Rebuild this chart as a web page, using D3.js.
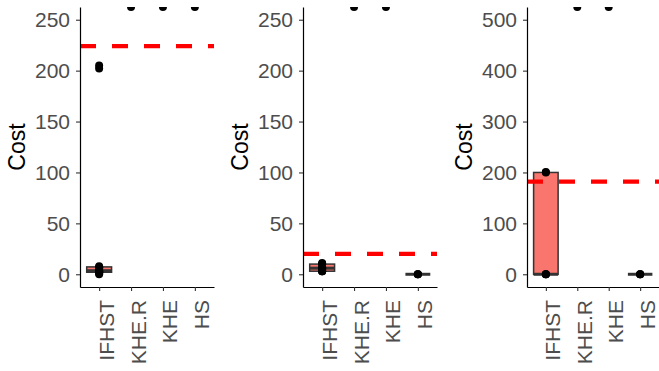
<!DOCTYPE html>
<html>
<head>
<meta charset="utf-8">
<script src="https://cdn.jsdelivr.net/npm/d3@7"></script>
<style>
  body { margin: 0; background: #fff; }
  text { font-family: "Liberation Sans", Arial, sans-serif; }
</style>
</head>
<body>
<div id="chart"></div>
<script>
// categories on the x axis
let categories = ["IFHST", "KHE.R", "KHE", "HS"];

// upper y limit of each panel and tick labels
let yLimits = [250, 250, 500];
let yTicks = [
    [0, 50, 100, 150, 200, 250],
    [0, 50, 100, 150, 200, 250],
    [0, 100, 200, 300, 400, 500]
];

// red dashed reference line per panel
let thresholds = [224, 20, 182];

// observed costs per panel, per category (Infinity = off the chart)
let costs1 = {
    IFHST: [0, 1, 2, 2, 3, 3, 4, 6, 7, 8, 202, 205],
    "KHE.R": [Infinity],
    KHE: [Infinity],
    HS: [Infinity]
};
let costs2 = {
    IFHST: [3, 3, 3, 5, 6, 7, 10, 10, 11],
    "KHE.R": [Infinity],
    KHE: [Infinity],
    HS: [0, 0, 0]
};
let costs3 = {
    IFHST: [0, 0, 0, 200, 201],
    "KHE.R": [Infinity],
    KHE: [Infinity],
    HS: [0, 0, 0]
};
let panels = [costs1, costs2, costs3];

let W = 659, H = 371;
let plotTop = 7, plotBottom = 287;
let axisX = [80, 303, 527];
let rightX = [214, 437, 659];

let svg = d3.select("#chart").append("svg")
    .attr("width", W)
    .attr("height", H);

svg.append("rect").attr("width", W).attr("height", H).attr("fill", "white");

function boxStats(vals) {
    let v = vals.filter(d => isFinite(d)).sort(d3.ascending);
    if (v.length == 0) return null;
    let q1 = d3.quantile(v, 0.25), med = d3.quantile(v, 0.5), q3 = d3.quantile(v, 0.75);
    let iqr = q3 - q1;
    let lo = d3.min(v.filter(d => d >= q1 - 1.5 * iqr));
    let hi = d3.max(v.filter(d => d <= q3 + 1.5 * iqr));
    return {q1: q1, med: med, q3: q3, lo: lo, hi: hi};
}

panels.forEach((data, p) => {
    let x0 = axisX[p], x1 = rightX[p];
    let yMax = yLimits[p];

    let x = d3.scalePoint()
        .domain(categories)
        .range([x0, x1])
        .padding(0.6);

    let y = d3.scaleLinear()
        .domain([-0.05 * yMax, 1.05 * yMax])
        .range([plotBottom, plotTop])
        .clamp(true);

    let g = svg.append("g");

    // clip to the panel so off-chart points show as half dots
    svg.append("clipPath").attr("id", "clip" + p)
        .append("rect")
        .attr("x", x0).attr("y", plotTop)
        .attr("width", x1 - x0).attr("height", plotBottom - plotTop);

    let plot = g.append("g").attr("clip-path", "url(#clip" + p + ")");

    let bw = x.step() * 0.78;

    // boxes
    categories.forEach(c => {
        let s = boxStats(data[c]);
        if (!s) return;
        let cx = x(c);
        plot.append("line")
            .attr("x1", cx).attr("x2", cx)
            .attr("y1", y(s.q3)).attr("y2", y(s.hi))
            .attr("stroke", "#333333").attr("stroke-width", 1.5);
        plot.append("line")
            .attr("x1", cx).attr("x2", cx)
            .attr("y1", y(s.q1)).attr("y2", y(s.lo))
            .attr("stroke", "#333333").attr("stroke-width", 1.5);
        plot.append("rect")
            .attr("x", cx - bw / 2)
            .attr("y", y(s.q3))
            .attr("width", bw)
            .attr("height", y(s.q1) - y(s.q3))
            .attr("fill", "#F8766D")
            .attr("stroke", "#333333")
            .attr("stroke-width", 1.5);
        plot.append("line")
            .attr("x1", cx - bw / 2).attr("x2", cx + bw / 2)
            .attr("y1", y(s.med)).attr("y2", y(s.med))
            .attr("stroke", "#333333").attr("stroke-width", 3);
    });

    // points
    categories.forEach(c => {
        plot.selectAll(null)
            .data(data[c])
            .enter()
            .append("circle")
            .attr("cx", x(c))
            .attr("cy", d => y(d))
            .attr("r", 4)
            .attr("fill", "black");
    });

    // threshold line
    plot.append("line")
        .attr("x1", x0).attr("x2", x1)
        .attr("y1", y(thresholds[p])).attr("y2", y(thresholds[p]))
        .attr("stroke", "red")
        .attr("stroke-width", 4.3)
        .attr("stroke-dasharray", "16,16");

    // y axis
    let ya = g.append("g")
        .attr("transform", "translate(" + x0 + ",0)")
        .call(d3.axisLeft(y).tickValues(yTicks[p]).tickSize(4).tickSizeOuter(0).tickPadding(6));
    ya.select(".domain").attr("stroke", "black").attr("stroke-width", 1.2);
    ya.selectAll(".tick line").attr("stroke", "#333333").attr("stroke-width", 1.1);
    ya.selectAll(".tick text")
        .attr("font-size", 21)
        .attr("font-family", "Liberation Sans, Arial, sans-serif")
        .attr("fill", "#4D4D4D");

    // x axis
    let xa = g.append("g")
        .attr("transform", "translate(0," + plotBottom + ")")
        .call(d3.axisBottom(x).tickSize(4).tickSizeOuter(0));
    xa.select(".domain").attr("stroke", "black").attr("stroke-width", 1.2);
    xa.selectAll(".tick line").attr("stroke", "#333333").attr("stroke-width", 1.1);
    xa.selectAll(".tick text")
        .attr("x", 0).attr("y", 0).attr("dy", null)
        .attr("text-anchor", "end")
        .attr("transform", "translate(14,13) rotate(-90)")
        .attr("font-size", 21)
        .attr("font-family", "Liberation Sans, Arial, sans-serif")
        .attr("fill", "#4D4D4D");

    // y title
    g.append("text")
        .attr("transform", "translate(" + (x0 - 55) + "," + ((plotTop + plotBottom) / 2) + ") rotate(-90)")
        .attr("text-anchor", "middle")
        .attr("font-size", 23)
        .attr("fill", "black")
        .text("Cost");
});
</script>
</body>
</html>
